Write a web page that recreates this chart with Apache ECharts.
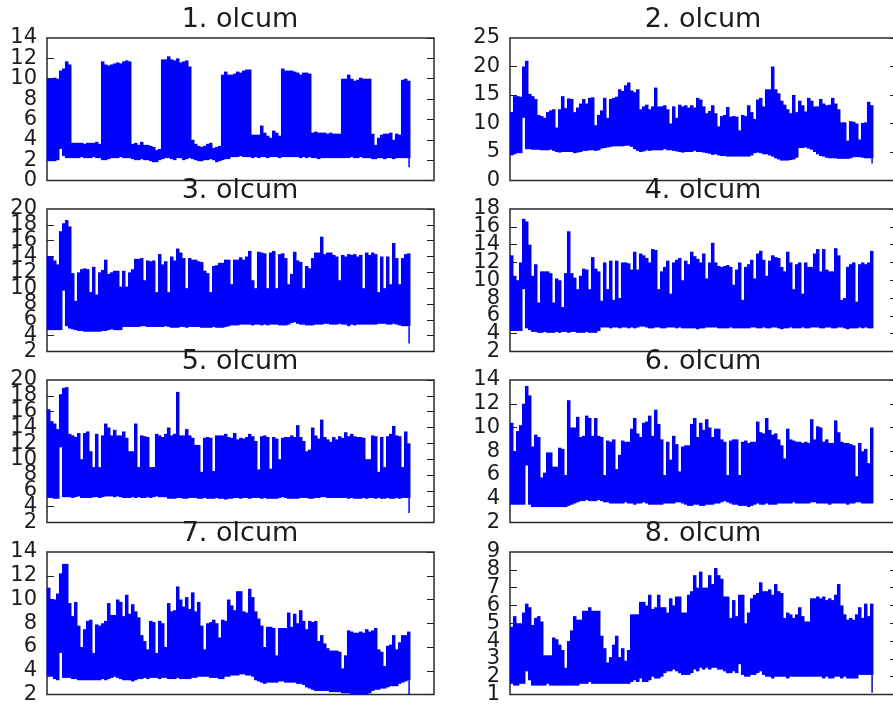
<!DOCTYPE html>
<html><head><meta charset="utf-8">
<style>html,body{margin:0;padding:0;background:#fff;overflow:hidden}#c{width:893px;height:707px}</style>
<script src="https://cdn.jsdelivr.net/npm/echarts@6/dist/echarts.min.js"></script>
</head><body><div id="c"></div>
<script>
const titles=["1. olcum","2. olcum","3. olcum","4. olcum","5. olcum","6. olcum","7. olcum","8. olcum"];
const yMin=[0,0,2,2,2,2,2,1];
const yMax=[14,25,20,18,20,14,14,9];
const yStep=[2,5,2,2,2,2,2,1];
const xMax=129;
const tailLow=[1.3,3.0,3.0,4.6,3.2,3.6,2.0,1.1];

const p1Hi=[10,10,10.1,10,10.8,11,11.7,11.4,3.7,3.7,3.7,3.7,3.6,3.7,3.7,3.7,3.8,3.6,11.7,11.4,11.3,11.4,11.5,11.6,11.5,11.7,11.8,11.7,3.6,3.7,3.5,3.8,3.5,3.5,3.4,3.3,3.0,3.1,11.9,11.9,12.2,11.9,11.8,12,11.6,11.7,11.8,11.2,4,3.6,3.4,3.3,3.4,3.6,3.7,3.2,3.3,3.4,10.4,10.7,10.4,10.4,10.5,10.7,10.6,10.8,10.9,10.9,4.5,4.5,4.5,5.4,4.7,4.4,4.2,4.9,4.7,4.4,11,10.8,10.8,10.8,10.7,10.6,10.4,10.6,10.6,10.5,4.7,4.8,4.7,4.7,4.7,4.6,4.7,4.6,4.6,4.6,10,10,10.4,10,9.8,9.9,10.1,10,10,10,4.6,3.5,4.2,4.5,4.6,4.6,4.7,4,4.6,4.5,9.9,10,9.8];
const p1Lo=[1.9,1.9,1.9,2,3.1,2.4,2.2,2.2,2.2,2.2,2.2,2.3,2.2,2.2,2.2,2.3,2.2,2.2,2.0,2.0,2.1,2.2,2.2,2.2,2.3,2.2,2.2,2.2,2.1,2.0,2.0,2.1,2.0,2.0,1.9,1.8,1.8,2.0,2.1,2.2,2.2,2.1,2.0,2.2,2.2,2.0,2.1,2.2,2.1,2.0,1.9,1.9,2.0,2.0,2.1,2.0,1.8,1.9,2.0,2.1,2.1,2.3,2.3,2.3,2.4,2.3,2.3,2.3,2.2,2.3,2.2,2.3,2.3,2.2,2.3,2.3,2.3,2.2,2.3,2.3,2.3,2.3,2.3,2.3,2.2,2.3,2.2,2.3,2.2,2.2,2.1,2.2,2.2,2.2,2.2,2.2,2.2,2.2,2.2,2.2,2.2,2.3,2.2,2.2,2.3,2.2,2.2,2.2,2.1,2.1,2.2,2.2,2.1,2.2,2.2,2.1,2.2,2.2,2.2,2.2,2.2];

const p2Hi=[12,14.8,14.8,14.7,20,21,15.2,14.8,14.3,11.5,11.3,11,12,12.3,12.5,9.3,12.5,14.8,12.7,14.4,14.3,12,12.8,13.5,14.3,13.5,14.5,14.6,9.7,11.5,12.3,14.5,11,14.3,14.5,14.7,16,15.7,16.7,17.2,15.8,15.5,16,12.5,13,13.3,12.5,13,16.3,13,13,13.2,12.5,10,13,11,13.3,13,13.2,12.8,13.2,12.8,14.5,14.2,13,11.8,12.2,13.2,11.8,9.5,11.3,11.5,12.9,11.2,11.3,11.2,8.8,11.5,11.3,13.2,12,10.8,14.2,14.5,13,16,16,20,16,15.3,14,13.3,12.5,11.8,15,12,14,13.2,12.1,14.5,14,13,13,14.3,13.5,13.2,13.3,14.5,13.5,12.5,10.2,10.2,7,10.4,10.3,10,7.2,10.1,10.2,13.8,13.2];
const p2Lo=[4.4,4.6,4.8,4.8,11,5.5,5.5,5.4,5.4,5.4,5.3,5.3,5.3,5.4,5.2,5.0,4.9,5.0,5.0,5.0,5.0,4.8,4.9,5.0,5.2,5.2,5.3,5.3,5.2,5.3,5.6,5.7,5.8,5.9,6.0,6.0,6.0,6.0,6.1,6.1,5.9,5.5,5.2,5.0,5.1,5.3,5.2,5.3,5.3,5.3,5.3,5.5,5.3,5.3,5.2,5.1,5.0,4.9,5.0,5.0,5.0,5.2,5.0,5.0,4.9,4.8,4.7,4.5,4.6,4.4,4.3,4.3,4.2,4.2,4.2,4.2,4.2,4.2,4.2,4.2,4.4,4.8,4.9,4.8,4.6,4.6,4.4,4.2,3.9,3.7,3.5,3.5,3.5,3.6,3.7,4.0,5.7,5.7,5.8,5.6,5.4,5.0,4.6,4.3,4.2,4.0,3.9,3.9,3.9,3.8,3.8,3.8,3.8,3.9,4.1,4.1,4.1,4.0,3.9,3.9,3.9];

const p3Hi=[14,14,13.5,13,17.2,18.2,18.6,17.8,11.9,8.4,12,12.4,12.5,12.4,9.5,12.7,9.2,12,12.3,13.6,11.8,12,12.2,12.2,10.2,12.2,10.2,12,12.4,13.7,13.7,13.8,11,13.5,13.4,13.5,9.5,14.3,13,13.4,9.5,14,13.5,15,14.5,13.8,10,13.8,13.6,13.6,13.4,13.3,12.2,11.9,9.5,12.8,12.9,13.2,13.2,13.6,13.6,10.5,13.6,13.6,13.9,13.6,14,14.7,11,10,14.6,14.5,14.4,10,14.5,14.7,10,14.3,14.4,13.8,10.5,11.8,14.6,13.5,13.3,10,12.8,12.5,13.8,14.5,14.5,16.5,14.3,14.5,14.5,14.2,14,11,14.2,14,14.3,14.2,14.3,14,14.2,10,14.5,14.2,14.5,14.3,9.5,14,10,14,10.5,15.7,13.8,10.5,13.8,14.3,14.4];
const p3Lo=[4.7,4.7,4.7,4.7,4.7,9.7,5.2,4.9,4.8,4.7,4.6,4.6,4.5,4.5,4.5,4.5,4.5,4.5,4.6,4.6,4.7,4.8,4.7,4.7,4.7,5.1,5.1,5.1,5.1,5.1,5.1,5.2,5.2,5.1,5.1,5.1,5.1,5.1,5.1,5.2,5.1,5.0,5.0,5.0,5.1,5.1,5.0,5.1,5.1,5.1,5.1,5.0,5.0,5.0,5.0,5.1,5.0,5.0,5.0,5.1,5.2,5.3,5.3,5.3,5.4,5.4,5.4,5.4,5.3,5.4,5.4,5.3,5.4,5.3,5.4,5.4,5.4,5.3,5.3,5.3,5.4,5.6,5.7,5.5,5.4,5.4,5.3,5.3,5.3,5.4,5.4,5.4,5.5,5.5,5.4,5.4,5.4,5.5,5.4,5.4,5.2,5.4,5.3,5.4,5.4,5.4,5.4,5.4,5.4,5.4,5.5,5.5,5.5,5.4,5.4,5.5,5.4,5.3,5.2,5.2,5.2];

const p4Hi=[12.8,10.5,10,12,16.9,16.6,14,10.5,11.8,7.5,11,11,11,10.8,7.5,10.2,10,7,10.8,15.5,10.8,10.3,9,10.5,11.3,11.2,9,12.6,11.3,11,7.7,12,9,12.2,7.8,12.2,8,12,12,11.9,11.2,13.2,11.2,13,12.8,12.5,12,13.5,13.4,9,11,11.5,12.2,8.5,12,12.3,12.5,10,12.2,11.8,13.2,12.7,12.4,12,13,10.2,12,14.2,12,11.6,11.5,11.6,11.7,11.5,9.5,11.2,12,7.8,11.5,11.8,12.3,10.2,13,13.3,12.3,10.5,12.2,12.8,12.6,12.5,11.5,11,13.2,12,9,11.8,12,8.5,12,11.5,11.5,13,13.5,11,13.5,11.2,11,11,13.6,12.8,7.8,8,11.5,11.8,12,7.6,11.8,12,11.8,12,13.3];
const p4Lo=[4.3,4.3,4.3,4.3,9,4.6,4.4,4.2,4.2,4.1,4.1,4.2,4.1,4.1,4.1,4.2,4.1,4.2,4.2,4.1,4.2,4.2,4.1,4.1,4.1,4.2,4.1,4.1,4.1,4.3,4.7,4.7,4.7,4.6,4.7,4.7,4.6,4.7,4.7,4.6,4.7,4.6,4.7,4.8,4.8,4.7,4.6,4.6,4.7,4.7,4.6,4.6,4.7,4.7,4.7,4.6,4.7,4.6,4.6,4.6,4.6,4.6,4.5,4.6,4.6,4.7,4.7,4.7,4.7,4.6,4.6,4.6,4.6,4.7,4.6,4.6,4.6,4.6,4.6,4.6,4.7,4.7,4.6,4.6,4.7,4.6,4.6,4.7,4.7,4.6,4.5,4.6,4.6,4.7,4.6,4.6,4.6,4.7,4.6,4.6,4.7,4.7,4.7,4.6,4.6,4.7,4.7,4.6,4.6,4.7,4.7,4.6,4.5,4.6,4.6,4.6,4.7,4.6,4.7,4.6,4.6];

const p5Hi=[16.3,14.8,14.5,13.8,18.2,19,19.1,13.2,13,12.8,13.3,10,13.3,13.5,11,9,13.2,9,13,14.5,14,13,13.7,13,13,13.5,12.7,11,11,14.5,9,13,12.9,12.8,9,9,13.2,13,12.8,13.2,14,13,13.2,18.5,13,13,13.8,13,12.7,11.8,11.8,8.4,12.7,12.8,12.7,8.5,13,13,13,13.2,12.8,12.7,13.3,12.5,12.7,12.6,12.8,13.2,12.9,12.3,8.7,12.9,13,12.8,8.8,12.8,12.6,10,12.7,12.8,12.8,13,12.8,14.3,12.8,12.3,11,11.2,14,13,12.6,15,12.8,12.5,12.2,12.8,12.5,12.9,12.7,13.4,12.9,13.2,12.9,12.8,12.8,12.7,10,10,13,12.9,8.4,12.8,9,12.9,13.2,14.2,13,12.9,9,13.5,12];
const p5Lo=[5.1,5.1,5,5,11.5,5.2,5.2,5.2,5.1,5.2,5.3,5.1,5.1,5.1,5.1,5.2,5.2,5.1,5.2,5.3,5.3,5.3,5.2,5.3,5.2,5.1,5.1,5.1,5.2,5.1,5.2,5.1,5.1,5.2,5.1,5.2,5.3,5.2,5.2,5.2,5,5,5,5.1,5.1,5,5,5.1,5.1,5.1,5,5,5.1,5,5,5,5.1,5,5,4.9,5,5,5.1,5.1,5,5.1,5.1,5,5.1,5.1,5.1,5,5.1,5,5,5,5,5.1,5.2,5.1,5,5,5,5,5.1,5.1,5.1,5,5,5.1,5.1,5.2,5.2,5.1,5.1,5.1,5.1,5.1,5.1,5.1,5,5.1,5,5,5,5.1,5,5.1,5.1,5,5.1,5,5,5.1,5,5,5.1,5,5.1,5.1,5.1];

const p6Hi=[10.4,8,9.7,10.2,12,13.5,12.7,8.4,9.4,9.2,5.8,6.2,7.9,7.9,6.7,6.7,8.3,8.2,6,12.3,10,10,10.9,9.2,9.3,11,10.8,9.3,10.8,9.3,9.2,6,8.9,8.8,9,6.5,7.7,8.9,8.8,8.8,9.9,10.8,9.5,9.2,10.4,10.5,11,9.3,11.5,10.3,9,6,8.8,7.3,9.3,8.6,6.3,8.4,8.5,8.5,10.3,10.8,9.2,10.4,9.8,10.7,10,9.2,9.9,9.9,9,8.8,6,8.9,9,9,6,8.8,8.9,8.7,8.8,8.8,10.5,9.6,9.5,10.8,9.8,9.4,9.5,9,8.5,7.4,9.9,9,8.9,8.8,8.8,8.7,8.8,8.7,10.7,9,10.1,10,8.8,9,8.7,8.7,10.6,9.6,8.8,8.7,8.7,8.6,8.5,5.9,8.7,8,8.2,7,10];
const p6Lo=[3.5,3.5,3.5,3.5,3.5,6.8,3.5,3.3,3.3,3.3,3.3,3.3,3.3,3.3,3.3,3.3,3.3,3.3,3.3,3.4,3.5,3.6,3.7,3.8,3.8,3.9,3.8,3.8,3.8,3.9,3.8,3.7,3.7,3.6,3.6,3.6,3.6,3.6,3.7,3.6,3.6,3.5,3.6,3.6,3.7,3.6,3.5,3.5,3.5,3.5,3.5,3.6,3.6,3.6,3.6,3.7,3.7,3.6,3.5,3.4,3.4,3.5,3.5,3.4,3.4,3.5,3.5,3.5,3.6,3.6,3.7,3.8,3.7,3.6,3.5,3.5,3.4,3.4,3.4,3.3,3.4,3.5,3.6,3.5,3.5,3.6,3.5,3.5,3.5,3.6,3.6,3.6,3.6,3.6,3.7,3.6,3.6,3.6,3.6,3.6,3.7,3.7,3.6,3.6,3.6,3.6,3.5,3.6,3.6,3.6,3.6,3.6,3.5,3.6,3.6,3.7,3.7,3.6,3.6,3.6,3.6];

const p7Hi=[11,10,10,10.5,12.2,13,13,9.7,8.6,9.8,7.8,6,7.5,8.2,8.3,5.5,7.9,7.8,8,8.2,9.7,8.7,8.7,10,9.8,8.6,10.4,8.8,9.6,9,8.5,7,6.5,5.8,8.2,8.1,5.5,8.2,8,6,9.7,9,9.1,11.1,10,9.4,10.2,9.2,10.6,9,9.8,7.8,5.8,8,8.1,8.3,8,6.8,8.3,8.2,10,9.5,9.1,10.7,10.7,9,8.9,10.9,10.2,9,8.4,7.8,6,7.7,7.7,7.6,5.3,7.6,7.6,7.6,8.9,7.7,8.8,8,9.1,8.2,7.5,8.2,8.1,8.2,6.5,7,6.3,5.9,5.7,5.7,5.7,5.6,4.2,5.3,7.4,7.3,7.2,7.2,7.3,7.2,7.5,7.3,7.4,7.6,5.8,5.6,4.4,6.1,6.2,7,5.8,6.4,7,7,7.3];
const p7Lo=[3.5,3.5,3.3,3.2,5.5,3.4,3.4,3.4,3.3,3.3,3.2,3.2,3.2,3.2,3.2,3.2,3.2,3.2,3.3,3.2,3.3,3.4,3.5,3.4,3.3,3.2,3.2,3.2,3.1,3.2,3.3,3.3,3.4,3.3,3.4,3.4,3.4,3.3,3.4,3.4,3.3,3.3,3.3,3.4,3.3,3.3,3.3,3.3,3.4,3.4,3.5,3.5,3.5,3.5,3.4,3.4,3.4,3.3,3.3,3.5,3.5,3.6,3.6,3.6,3.7,3.7,3.6,3.6,3.5,3.2,3.1,3,2.9,3,3,3,3,3.1,3.1,3,3,3,3,2.9,2.9,2.8,2.6,2.5,2.4,2.3,2.3,2.3,2.3,2.3,2.2,2.2,2.2,2.2,2.1,2.1,2.1,2.0,2.0,2.0,2.0,2.0,2.0,2.1,2.3,2.4,2.4,2.5,2.5,2.6,2.7,2.7,2.7,2.9,3,3.1,3.2];

const p8Hi=[4.8,5.4,5,5,5.6,6.1,5.9,4.9,5.3,5.4,5.1,3.2,3.2,3.2,4.2,4.1,3.8,3.5,2.5,4,4.6,5.4,5.2,5.2,5.7,5.7,5.9,5.7,5.7,5.7,4.3,3.6,2.8,3.1,3.8,4.3,3.1,3.6,2.9,3.5,5.5,5.5,5.5,6.2,6.2,6,6.6,5.8,5.9,6.6,5.9,5.9,5.6,6.4,6,6.5,6.5,5.6,5.6,6.6,6.8,7.7,7,7.9,7,7,7.7,7.2,8.1,7.7,7.5,6.5,6.5,5.3,6.3,5.4,6.6,6.6,5,5.6,6.4,6.6,6.7,7.3,6.8,6.8,6.9,6.6,7.2,6.8,6.7,5.3,5.6,5.5,5.3,5.5,5.9,5.4,5.1,5.1,6.4,6.4,6.5,6.4,6.5,6.3,6.4,6.3,6.6,7.2,6,5.5,5.2,5.3,5.2,5.5,5.9,5.3,6.1,5.4,6.1];
const p8Lo=[1.6,1.5,1.5,1.6,1.6,2.3,1.8,1.5,1.5,1.5,1.5,1.5,1.6,1.5,1.5,1.5,1.5,1.5,1.5,1.5,1.5,1.5,1.5,1.6,1.6,1.6,1.7,1.6,1.6,1.6,1.6,1.6,1.6,1.6,1.6,1.6,1.6,1.6,1.6,1.6,1.7,1.8,1.7,1.9,1.7,1.7,1.8,2,1.9,1.9,2,2.2,2.3,2.3,2.4,2.3,2.2,2.1,2.1,2.1,2.2,2.4,2.3,2.5,2.4,2.5,2.4,2.5,2.5,2.4,2.4,2.3,2.2,2.2,2.3,2.2,2.7,2.1,2,2,2.1,2.1,2.2,2.3,2.1,2,2,1.9,2,2,2,2,1.9,2,2,2,2,2,2,2,2,2,2,2,1.9,2,1.9,1.9,2,2,1.9,2,1.9,1.9,1.9,1.9,2.1,2.1,2.1,2.1,2.1];

const hiLists=[p1Hi,p2Hi,p3Hi,p4Hi,p5Hi,p6Hi,p7Hi,p8Hi];
const loLists=[p1Lo,p2Lo,p3Lo,p4Lo,p5Lo,p6Lo,p7Lo,p8Lo];

const leftPx=[47,510], wPx=387;
const topPx=[38,209,380,552], hPx=142.5;
const titleTop=[1,172,343,515];
const ink='#1c1c1c', blue='#0000ff';

function columns(hi,lo){return hi.map((h,i)=>[i,lo[i],h]);}
function renderColumn(params,api){
  const a=api.coord([api.value(0),api.value(2)]);
  const b=api.coord([api.value(0)+1,api.value(1)]);
  return {type:'rect',shape:{x:a[0],y:a[1],width:b[0]-a[0]+0.5,height:b[1]-a[1]},style:{fill:blue}};
}

const labelFont={color:ink,fontFamily:'DejaVu Sans',fontSize:21,margin:10};
const tickStyle={show:true,inside:true,length:7,lineStyle:{color:'#222',width:1}};

const grid=[],xAxis=[],yAxis=[],series=[],title=[];
titles.forEach((t,k)=>{
  const col=k%2,row=(k-col)/2;
  grid.push({left:leftPx[col],top:topPx[row],width:wPx,height:hPx,outerBoundsMode:'none',show:true,backgroundColor:'#fff',borderColor:'#2a2a2a',borderWidth:1.5});
  xAxis.push({type:'value',gridIndex:k,min:0,max:xMax,show:false});
  const base={type:'value',gridIndex:k,min:yMin[k],max:yMax[k],interval:yStep[k],splitLine:{show:false},axisLine:{show:false}};
  yAxis.push(Object.assign({},base,{position:'left',axisTick:tickStyle,
    axisLabel:Object.assign({},labelFont,{showMinLabel:false,showMaxLabel:false,lineHeight:8})}));
  yAxis.push(Object.assign({},base,{position:'right',axisTick:tickStyle,axisLabel:{show:false}}));
  yAxis.push(Object.assign({},base,{position:'left',axisTick:{show:false},
    axisLabel:Object.assign({},labelFont,{customValues:[yMin[k],yMax[k]]})}));
  series.push({type:'custom',xAxisIndex:k,yAxisIndex:3*k,data:columns(hiLists[k],loLists[k]),renderItem:renderColumn,encode:{x:0,y:[1,2]},animation:false,silent:true,z:2});
  const last=hiLists[k].length-1;
  series.push({type:'line',xAxisIndex:k,yAxisIndex:3*k,data:[[last+0.7,loLists[k][last]],[last+0.7,tailLow[k]]],symbol:'none',lineStyle:{color:blue,width:1.5},animation:false,silent:true,z:2});
  title.push({text:t,left:leftPx[col]+wPx/2-5.5,top:titleTop[row],textAlign:'center',textStyle:{fontFamily:'DejaVu Sans',fontSize:27,fontWeight:'normal',color:ink}});
});

const chart=echarts.init(document.getElementById('c'),null,{renderer:'canvas'});
chart.setOption({animation:false,backgroundColor:'#fff',title,grid,xAxis,yAxis,series});
</script></body></html>
